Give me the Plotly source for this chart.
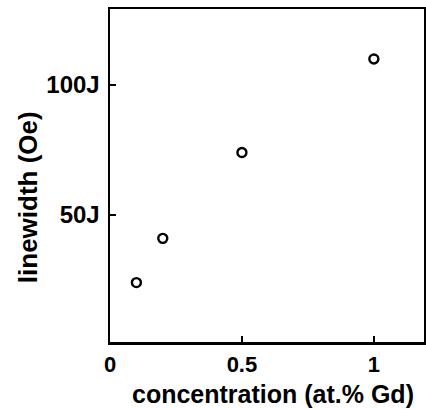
import plotly.graph_objects as go

conc = [0.1, 0.2, 0.5, 1.0]
linewidth = [24, 41, 74, 110]
x_tickvals = [0, 0.5, 1]
x_ticktext = ["0", "0.5", "1"]
y_tickvals = [50, 100]
y_ticktext = ["50J", "100J"]

FONT = "Liberation Sans"

fig = go.Figure()
fig.add_trace(go.Scatter(
    x=conc, y=linewidth, mode="markers",
    marker=dict(symbol="circle-open", size=9, color="black", line=dict(width=2.4, color="black")),
    showlegend=False, cliponaxis=False, hoverinfo="skip",
))

fig.update_layout(
    width=426, height=409,
    margin=dict(l=110, r=2, t=9, b=67, autoexpand=False),
    paper_bgcolor="white", plot_bgcolor="white",
    font=dict(family=FONT, size=24, color="black"),
    xaxis=dict(range=[0, 1.19], tickvals=x_tickvals, ticktext=x_ticktext,
               ticks="inside", ticklen=6, tickwidth=2, tickcolor="black",
               showline=True, linewidth=2.5, linecolor="black", mirror=True,
               showgrid=False, zeroline=False, ticklabelstandoff=1,
               tickfont=dict(size=22, family=FONT, weight="bold")),
    yaxis=dict(range=[1.15, 129.2], tickvals=y_tickvals, ticktext=y_ticktext,
               ticks="inside", ticklen=6, tickwidth=2, tickcolor="black",
               showline=True, linewidth=2.5, linecolor="black", mirror=True,
               showgrid=False, zeroline=False, ticklabelstandoff=3,
               tickfont=dict(size=24, family=FONT, weight="bold")),
    annotations=[
        dict(text="concentration (at.% Gd)", xref="paper", yref="paper",
             x=0.52, y=-0.156, xanchor="center", yanchor="middle", showarrow=False,
             font=dict(size=25, family=FONT, weight="bold")),
        dict(text="linewidth (Oe)", xref="paper", yref="paper",
             x=-0.261, y=0.435, xanchor="center", yanchor="middle", textangle=-90,
             showarrow=False, font=dict(size=26, family=FONT, weight="bold")),
    ],
)

fig.write_html(
    "out.html",
    config={"displayModeBar": False, "staticPlot": True},
    post_script="document.body.style.margin='0';document.body.style.overflow='hidden';",
)
